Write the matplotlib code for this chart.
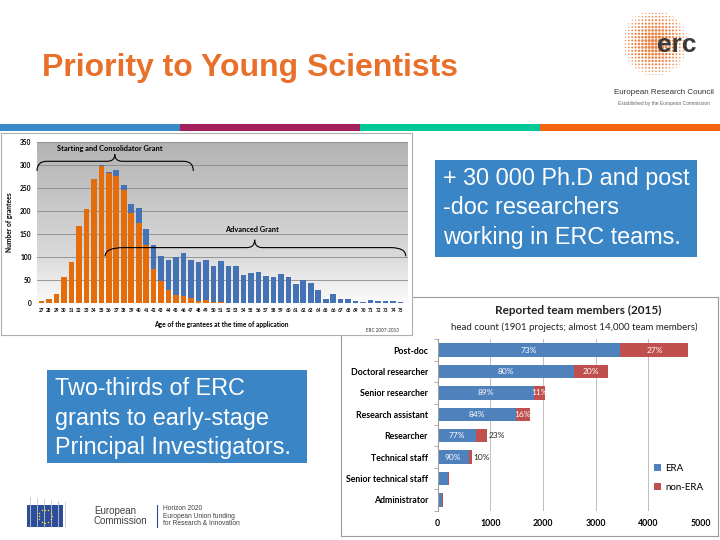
import numpy as np
import matplotlib.pyplot as plt
from matplotlib.patches import Rectangle, PathPatch
from matplotlib.path import Path
from matplotlib.colors import LinearSegmentedColormap

# ---- data: grantees by age (ERC 2007-2013) ----
ages = list(range(27, 76))
starting_grant = [4, 8, 18, 57, 88, 168, 205, 270, 297, 283, 277, 245, 196,
                  174, 125, 73, 48, 27, 17, 14, 10, 3, 6, 2, 1] + [0] * 24
advanced_grant = [0] * 8 + [3, 2, 13, 11, 19, 33, 35, 52, 53, 65, 83, 95, 83,
                            86, 88, 78, 90, 80, 80, 60, 65, 67, 59, 56, 63, 57,
                            41, 50, 42, 28, 8, 19, 8, 8, 4, 2, 6, 4, 4, 3, 2]
hist_yticks = [0, 50, 100, 150, 200, 250, 300, 350]

# ---- data: reported team members (2015) ----
roles = ["Post-doc", "Doctoral researcher", "Senior researcher",
         "Research assistant", "Researcher", "Technical staff",
         "Senior technical staff", "Administrator"]
era = [3470, 2590, 1820, 1480, 725, 585, 200, 90]
non_era = [1290, 650, 225, 280, 215, 65, 22, 5]
era_labels = ["73%", "80%", "89%", "84%", "77%", "90%", "", ""]
non_era_labels = ["27%", "20%", "11%", "16%", "23%", "10%", "", ""]
bar_xticks = [0, 1000, 2000, 3000, 4000, 5000]

ORANGE = '#e46c0a'
BLUE = '#4472b4'
ERA_BLUE = '#4f81bd'
NON_ERA_RED = '#c0504d'
BOX_BLUE = '#3a85c5'
TITLE_ORANGE = '#e8702a'
CHART_FONT = 'Lato'

W, H = 720, 540
fig = plt.figure(figsize=(7.2, 5.4), dpi=100)


def fig_rect(x0, y0, x1, y1):
    """pixel box (top-left origin) -> figure fraction [l, b, w, h]"""
    return [x0 / W, 1 - y1 / H, (x1 - x0) / W, (y1 - y0) / H]


# background axes in pixel coordinates for slide decorations
bg = fig.add_axes([0, 0, 1, 1], zorder=0)
bg.set_xlim(0, W)
bg.set_ylim(H, 0)
bg.axis('off')

# title
bg.text(42, 68, "Priority to Young Scientists", color=TITLE_ORANGE,
        fontsize=23, fontweight='bold', family='Liberation Sans', va='center')

# colour stripe
for i, c in enumerate(['#3a8ac9', '#a3215a', '#00c896', '#f5630f']):
    bg.add_patch(Rectangle((i * 180, 124), 180, 7, color=c, lw=0))

# ERC logo (dotted disc + lettering)
gx, gy = np.meshgrid(np.arange(-33, 34, 3.4), np.arange(-33, 34, 3.4))
gr = np.hypot(gx, gy)
keep = gr < 33
sizes = np.clip(6.0 * (1 - gr[keep] / 35), 0.4, None)
bg.scatter(655 + gx[keep], 43 + gy[keep], s=sizes, color='#e8762e',
           alpha=0.9, lw=0)
bg.text(677, 45, "erc", fontsize=19, fontweight='bold', color='#3a3a3a',
        ha='center', va='center', family='Liberation Sans')
bg.text(664, 92, "European Research Council", fontsize=5.8, color='#333333',
        ha='center', va='center', family='Liberation Sans')
bg.text(664, 104, "Established by the European Commission", fontsize=3.5,
        color='#666666', ha='center', va='center', family='Liberation Sans')

# text boxes
bg.add_patch(Rectangle((435, 160), 262, 97, color=BOX_BLUE, lw=0))
bg.text(443, 208, "+ 30 000 Ph.D and post\n-doc researchers\nworking in ERC teams.",
        color='white', fontsize=16.8, family='Liberation Sans', va='center',
        linespacing=1.34)
bg.add_patch(Rectangle((47, 370), 260, 93, color=BOX_BLUE, lw=0))
bg.text(55, 418, "Two-thirds of ERC\ngrants to early-stage\nPrincipal Investigators.",
        color='white', fontsize=16.8, family='Liberation Sans', va='center',
        linespacing=1.34)

# European Commission / Horizon 2020 footer
for k in range(6):
    bg.plot([30 + k * 7, 30 + k * 7], [497 + k, 527], color='#c8c8c8', lw=0.6)
bg.add_patch(Rectangle((27, 505), 36, 22, color='#2b4d9b', lw=0))
ang = np.linspace(0, 2 * np.pi, 12, endpoint=False)
bg.scatter(45 + 6.5 * np.cos(ang), 516 + 6.5 * np.sin(ang), s=1.2,
           color='#ffdd00', lw=0)
bg.text(94, 516, "European\nCommission", fontsize=7, color='#404040',
        va='center', family='Liberation Sans', linespacing=1.1)
bg.plot([157, 157], [505, 527], color='#2b4d9b', lw=0.8)
bg.text(163, 516, "Horizon 2020\nEuropean Union funding\nfor Research & Innovation",
        fontsize=4.8, color='#404040', va='center', family='Liberation Sans',
        linespacing=1.15)

# ---- bar chart panel (drawn below the histogram panel) ----
bar_panel = fig.add_axes(fig_rect(341, 297, 718, 536), zorder=1)
bar_panel.set_xticks([])
bar_panel.set_yticks([])
for s in bar_panel.spines.values():
    s.set_color('#9a9a9a')
    s.set_linewidth(0.8)
bar_panel.text(0.63, 0.945, "Reported team members (2015)", transform=bar_panel.transAxes,
               ha='center', va='center', fontsize=8.5, fontweight='bold',
               family=CHART_FONT, color='#222222')
bar_panel.text(0.62, 0.875, "head count (1901 projects; almost 14,000 team members)",
               transform=bar_panel.transAxes, ha='center', va='center',
               fontsize=7, family=CHART_FONT, color='#222222')

ax_bar = fig.add_axes(fig_rect(437.7, 339.3, 701, 510.7), zorder=2)
ax_bar.patch.set_alpha(0)
ypos = np.arange(len(roles))
ax_bar.barh(ypos, era, height=0.62, color=ERA_BLUE, label='ERA', zorder=2)
ax_bar.barh(ypos, non_era, left=era, height=0.62, color=NON_ERA_RED,
            label='non-ERA', zorder=2)
for i in range(len(roles)):
    if era_labels[i]:
        ax_bar.text(era[i] / 2, i, era_labels[i], color='white', ha='center',
                    va='center', fontsize=6, family=CHART_FONT, zorder=3)
    if non_era_labels[i]:
        total = era[i] + non_era[i]
        if non_era[i] > 220:
            ax_bar.text(era[i] + non_era[i] / 2, i, non_era_labels[i],
                        color='white', ha='center', va='center', fontsize=6,
                        family=CHART_FONT, zorder=3)
        else:
            ax_bar.text(total + 20, i, non_era_labels[i], color='#222222',
                        ha='left', va='center', fontsize=6, family=CHART_FONT,
                        zorder=3)
ax_bar.set_xlim(0, 5000)
ax_bar.set_ylim(len(roles) - 0.5, -0.5)
ax_bar.set_yticks(ypos)
ax_bar.set_yticklabels(roles, fontsize=6.3, fontweight='bold', family=CHART_FONT)
ax_bar.set_yticks(np.arange(-0.5, len(roles), 1), minor=True)
ax_bar.tick_params(axis='y', which='major', length=0, pad=7)
ax_bar.tick_params(axis='y', which='minor', length=3, color='#a0a0a0')
ax_bar.set_xticks(bar_xticks)
ax_bar.set_xticklabels([str(v) for v in bar_xticks], fontsize=6.3,
                       fontweight='bold', family=CHART_FONT)
ax_bar.tick_params(axis='x', length=0, pad=6)
ax_bar.grid(axis='x', color='#bfbfbf', lw=0.7)
ax_bar.set_axisbelow(True)
for side in ['top', 'right', 'bottom']:
    ax_bar.spines[side].set_visible(False)
ax_bar.spines['left'].set_color('#a0a0a0')
ax_bar.legend(loc='center left', bbox_to_anchor=(0.79, 0.19), frameon=False,
              handlelength=0.7, handleheight=0.7, handletextpad=0.4,
              labelspacing=1.0, prop={'family': CHART_FONT, 'size': 7})

# ---- histogram panel (on top) ----
hist_panel = fig.add_axes(fig_rect(1, 133, 412, 335), zorder=3)
hist_panel.set_xticks([])
hist_panel.set_yticks([])
for s in hist_panel.spines.values():
    s.set_color('#b0b0b0')
    s.set_linewidth(0.8)
hist_panel.text(0.535, 0.05, "Age of the grantees at the time of application",
                transform=hist_panel.transAxes, ha='center', va='center',
                fontsize=4.8, fontweight='bold', family=CHART_FONT)
hist_panel.text(0.927, 0.02, "ERC 2007-2013", transform=hist_panel.transAxes,
                ha='center', va='center', fontsize=3.3, family=CHART_FONT,
                color='#333333')

ax = fig.add_axes(fig_rect(37, 142, 408, 302.7), zorder=4)
xmin, xmax = 26.4, 76.0
grad = LinearSegmentedColormap.from_list(
    'bg', [(0, '#fbfbfb'), (0.3, '#d9d9d9'), (1, '#b3b3b3')])
ax.imshow(np.linspace(0, 1, 256)[:, None], extent=[xmin, xmax, 0, 350],
          origin='lower', aspect='auto', cmap=grad, zorder=0)
ax.bar(ages, starting_grant, width=0.75, color=ORANGE, zorder=2)
ax.bar(ages, advanced_grant, width=0.75, bottom=starting_grant, color=BLUE,
       zorder=2)
ax.set_xlim(xmin, xmax)
ax.set_ylim(0, 350)
ax.set_yticks(hist_yticks)
ax.set_yticklabels([str(v) for v in hist_yticks], fontsize=4.8,
                   fontweight='bold', family=CHART_FONT)
ax.set_xticks(ages)
ax.set_xticklabels([str(a) for a in ages], fontsize=3.4, fontweight='bold',
                   family=CHART_FONT)
ax.tick_params(length=0, pad=4)
ax.set_axisbelow(True)
ax.grid(axis='y', color='#8a8a8a', lw=0.6)
for s in ax.spines.values():
    s.set_visible(False)
ax.set_ylabel("Number of grantees", fontsize=4.8, fontweight='bold',
              family=CHART_FONT, labelpad=5)


def brace(axis, x0, x1, xm, y, y_end, y_tip, r0, r1):
    verts = [(x0, y_end), (x0, y), (x0 + r0, y),
             (xm - 1.0, y),
             (xm, y), (xm, y_tip),
             (xm, y), (xm + 1.0, y),
             (x1 - r1, y),
             (x1, y), (x1, y_end)]
    codes = [Path.MOVETO, Path.CURVE3, Path.CURVE3,
             Path.LINETO,
             Path.CURVE3, Path.CURVE3,
             Path.CURVE3, Path.CURVE3,
             Path.LINETO,
             Path.CURVE3, Path.CURVE3]
    axis.add_patch(PathPatch(Path(verts, codes), fill=False, lw=0.8,
                             color='black', zorder=5, clip_on=False))


brace(ax, 26.4, 47.3, 36.8, 308, 287, 323, 1.3, 1.3)
ax.text(36.1, 336, "Starting and Consolidator Grant", fontsize=5.3,
        fontweight='bold', ha='center', va='center', family=CHART_FONT, zorder=6)
brace(ax, 35.5, 75.7, 55.5, 120, 101, 137, 2.5, 2.0)
ax.text(55.1, 160, "Advanced Grant", fontsize=5.3, fontweight='bold',
        ha='center', va='center', family=CHART_FONT, zorder=6)

fig.savefig('out.png', dpi=100)
